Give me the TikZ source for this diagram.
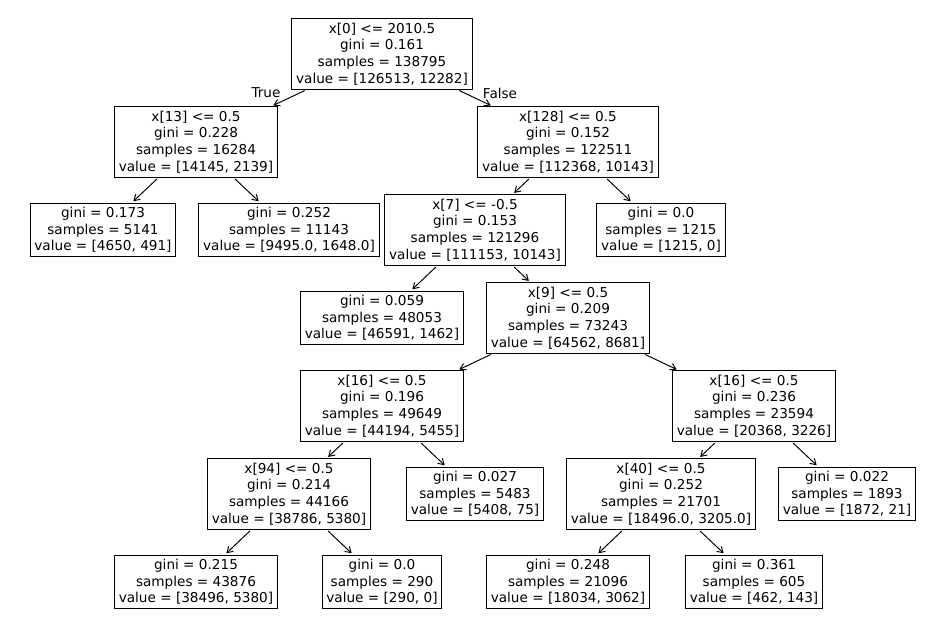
\documentclass[tikz,border=0pt]{standalone}
\usepackage{fontspec}
\setmainfont{DejaVu Sans}
\usetikzlibrary{arrows.meta}
\begin{document}
\begin{tikzpicture}[x=0.72pt, y=-0.72pt,
  treenode/.style={draw, line width=0.7pt, rectangle, inner sep=3pt, align=center,
    font=\fontsize{9.8pt}{12pt}\selectfont},
  treeedge/.style={line width=0.7pt, -{Straight Barb[length=4pt,width=5pt]},
    shorten <=1.4pt, shorten >=1.4pt}]
\useasboundingbox (0,0) rectangle (950,636);

\node[treenode] (n0) at (382,54) {x[0] <= 2010.5\\gini = 0.161\\samples = 138795\\value = [126513, 12282]};

\node[treenode] (n1) at (196,142) {x[13] <= 0.5\\gini = 0.228\\samples = 16284\\value = [14145, 2139]};
\node[treenode] (n2) at (568,142) {x[128] <= 0.5\\gini = 0.152\\samples = 122511\\value = [112368, 10143]};

\node[treenode] (n3) at (103,230) {gini = 0.173\\samples = 5141\\value = [4650, 491]};
\node[treenode] (n4) at (289,230) {gini = 0.252\\samples = 11143\\value = [9495.0, 1648.0]};
\node[treenode] (n5) at (475,230) {x[7] <= -0.5\\gini = 0.153\\samples = 121296\\value = [111153, 10143]};
\node[treenode] (n6) at (661,230) {gini = 0.0\\samples = 1215\\value = [1215, 0]};

\node[treenode] (n7) at (382,318) {gini = 0.059\\samples = 48053\\value = [46591, 1462]};
\node[treenode] (n8) at (568,318) {x[9] <= 0.5\\gini = 0.209\\samples = 73243\\value = [64562, 8681]};

\node[treenode] (n9) at (382,406) {x[16] <= 0.5\\gini = 0.196\\samples = 49649\\value = [44194, 5455]};
\node[treenode] (n10) at (754,406) {x[16] <= 0.5\\gini = 0.236\\samples = 23594\\value = [20368, 3226]};

\node[treenode] (n11) at (289,494) {x[94] <= 0.5\\gini = 0.214\\samples = 44166\\value = [38786, 5380]};
\node[treenode] (n12) at (475,494) {gini = 0.027\\samples = 5483\\value = [5408, 75]};
\node[treenode] (n13) at (661,494) {x[40] <= 0.5\\gini = 0.252\\samples = 21701\\value = [18496.0, 3205.0]};
\node[treenode] (n14) at (847,494) {gini = 0.022\\samples = 1893\\value = [1872, 21]};

\node[treenode] (n15) at (196,582) {gini = 0.215\\samples = 43876\\value = [38496, 5380]};
\node[treenode] (n16) at (382,582) {gini = 0.0\\samples = 290\\value = [290, 0]};
\node[treenode] (n17) at (568,582) {gini = 0.248\\samples = 21096\\value = [18034, 3062]};
\node[treenode] (n18) at (754,582) {gini = 0.361\\samples = 605\\value = [462, 143]};

% edges parent/child
\foreach \p/\c in {n0/n1, n0/n2, n1/n3, n1/n4, n2/n5, n2/n6, n5/n7, n5/n8, n8/n9,
  n8/n10, n9/n11, n9/n12, n10/n13, n10/n14, n11/n15, n11/n16, n13/n17, n13/n18}
  \draw[treeedge] (\p) -- (\c);

\node[font=\fontsize{9.8pt}{12pt}\selectfont] (lbltrue) at (266,93) {True};
\node[font=\fontsize{9.8pt}{12pt}\selectfont] (lblfalse) at (500,93) {False};
\end{tikzpicture}
\end{document}
